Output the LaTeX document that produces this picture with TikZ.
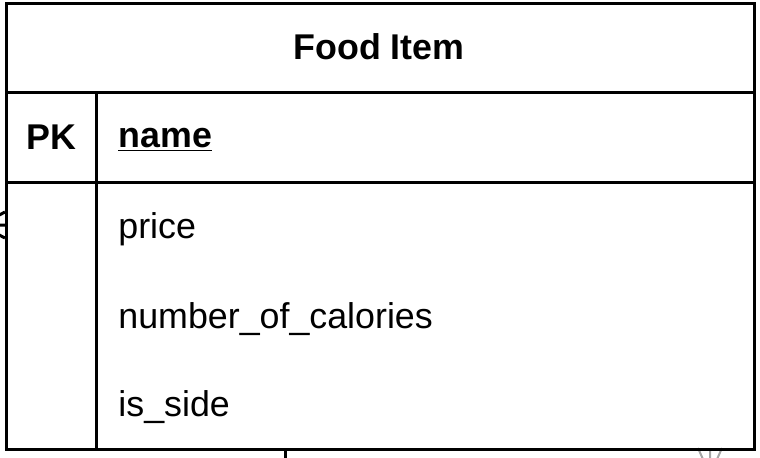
\documentclass[tikz,border=0pt]{standalone}
\usepackage{fontspec}
\setmainfont{Liberation Sans}
\usetikzlibrary{positioning,calc}

\begin{document}
\begin{tikzpicture}[
  x=0.5pt, y=-0.5pt,
  font=\fontsize{17.9}{21}\selectfont,
  cell/.style={draw, line width=1.5pt, inner sep=0pt, anchor=north west},
  attr/.style={anchor=west, inner sep=0pt},
  stub/.style={line width=1.5pt},
  faint/.style={line width=1pt, black!35}]
  \useasboundingbox (0,0) rectangle (760,457);
  % connector ends coming in from outside the picture
  \coordinate (lfoot) at (-20,225);
  \coordinate (bstub) at (285,470);
  \coordinate (rfoot) at (710,475);
  \begin{scope}
    \clip (0,0) rectangle (760,457);
    \draw[stub] (lfoot) -- (5,212) (lfoot) -- (5,225) (lfoot) -- (5,238);
    \draw[stub] (bstub) -- (285,448);
    \draw[faint] (rfoot) -- (698,448) (rfoot) -- (710,448) (rfoot) -- (722,448);
  \end{scope}
  % entity
  \node[cell, minimum width=748*0.5pt, minimum height=89*0.5pt] (head) at (5,2) {};
  \node[font=\fontsize{17.9}{21}\selectfont\bfseries] (title) at (379,47) {Food Item};
  \node[cell, minimum width=90*0.5pt, minimum height=90*0.5pt] (pkkey) at (5,91) {};
  \node[cell, minimum width=658*0.5pt, minimum height=90*0.5pt] (pkrow) at (95,91) {};
  \node[cell, minimum width=90*0.5pt, minimum height=267*0.5pt] (keycol) at (5,181) {};
  \node[cell, minimum width=658*0.5pt, minimum height=267*0.5pt] (attrs) at (95,181) {};
  \node[font=\fontsize{17.9}{21}\selectfont\bfseries] (pk) at (pkkey.center) {PK};
  \node[attr, font=\fontsize{17.9}{21}\selectfont\bfseries] (name) at (118,140) {\underline{name}};
  \node[attr] (price) at (118,229) {price};
  \node[attr] (calories) at (118,319) {number\_of\_calories};
  \node[attr] (side) at (118,407) {is\_side};
\end{tikzpicture}
\end{document}
